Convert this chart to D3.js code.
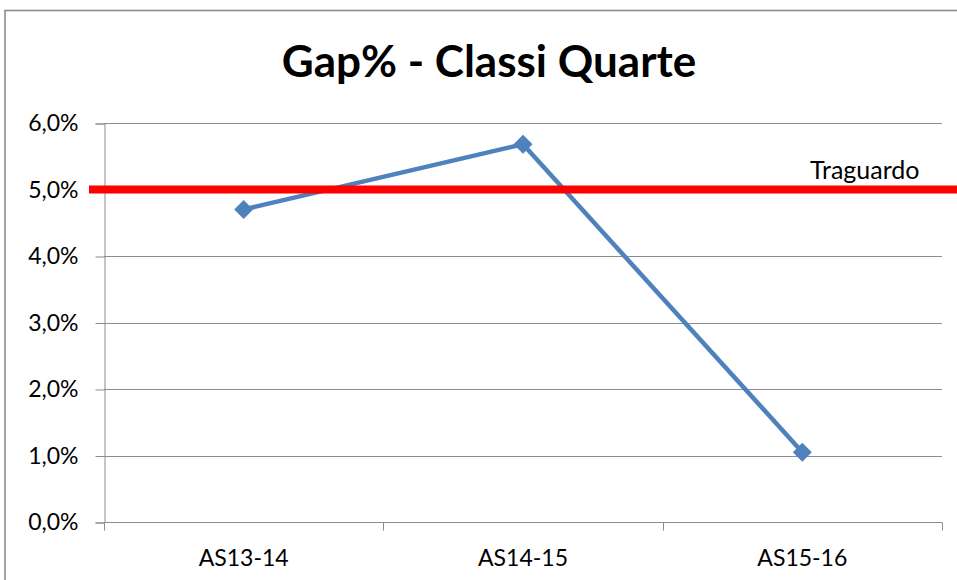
<!DOCTYPE html>
<html lang="it">
<head>
<meta charset="UTF-8">
<title>Gap% - Classi Quarte</title>
<script src="https://cdn.jsdelivr.net/npm/d3@7"></script>
<style>
    body { margin: 0; padding: 0; background: #fff; }
    svg { display: block; font-family: Lato, "Open Sans", sans-serif; }
</style>
</head>
<body>
<div id="chart"></div>
<script>
    // Data
    const categories = ["AS13-14", "AS14-15", "AS15-16"];
    const gapValues = [4.7, 5.68, 1.05];   // percent
    const targetValue = 5.0;                // "Traguardo"
    const targetLabel = "Traguardo";
    const yTicks = [0, 1, 2, 3, 4, 5, 6];
    const title = "Gap% - Classi Quarte";

    const width = 957;
    const height = 580;
    const margin = {top: 123, right: 15, bottom: 58, left: 104};

    const it = d3.formatLocale({decimal: ",", thousands: ".", grouping: [3], currency: ["€", ""]});
    const fmt = d => it.format(".1f")(d) + "%";

    const svg = d3.select("#chart").append("svg")
        .attr("width", width)
        .attr("height", height)
        .attr("viewBox", [0, 0, width, height]);

    // outer chart border (only top and left are visible in the frame)
    svg.append("rect")
        .attr("x", 5).attr("y", 10.5)
        .attr("width", width + 20).attr("height", height + 20)
        .attr("fill", "none")
        .attr("stroke", "#8c8c8c")
        .attr("stroke-width", 1.6);

    const x = d3.scaleBand()
        .domain(categories)
        .range([margin.left, width - margin.right]);

    const y = d3.scaleLinear()
        .domain([0, 6])
        .range([height - margin.bottom, margin.top]);

    // title
    svg.append("text")
        .attr("x", 489)
        .attr("y", 77)
        .attr("text-anchor", "middle")
        .attr("font-size", 44)
        .attr("font-weight", "bold")
        .attr("fill", "#000")
        .text(title);

    // horizontal gridlines
    svg.append("g")
        .attr("stroke", "#8c8c8c")
        .attr("stroke-width", 1)
        .selectAll("line")
        .data(yTicks.filter(d => d > 0))
        .join("line")
        .attr("x1", x.range()[0])
        .attr("x2", x.range()[1])
        .attr("y1", d => Math.round(y(d)) + 0.5)
        .attr("y2", d => Math.round(y(d)) + 0.5);

    // y axis
    const yAxis = svg.append("g")
        .attr("transform", `translate(${x.range()[0] + 0.5},0.5)`)
        .call(d3.axisLeft(y).tickValues(yTicks).tickFormat(fmt).tickSize(9).tickPadding(17));
    yAxis.select(".domain").attr("stroke", "#8c8c8c");
    yAxis.selectAll(".tick line").attr("stroke", "#8c8c8c");
    yAxis.selectAll(".tick text")
        .attr("font-size", 23)
        .attr("font-family", "Lato, sans-serif")
        .attr("fill", "#000");

    // x axis: ticks at category boundaries, labels in band centres
    const xAxis = svg.append("g")
        .attr("transform", `translate(0,${Math.round(y(0)) + 0.5})`);
    xAxis.append("line")
        .attr("x1", x.range()[0]).attr("x2", x.range()[1])
        .attr("stroke", "#8c8c8c");
    const bounds = categories.map(c => x(c)).concat([x.range()[1]]);
    xAxis.selectAll(".bt")
        .data(bounds)
        .join("line")
        .attr("class", "bt")
        .attr("x1", d => Math.round(d) + 0.5).attr("x2", d => Math.round(d) + 0.5)
        .attr("y1", 0).attr("y2", 8)
        .attr("stroke", "#8c8c8c");
    xAxis.selectAll(".lbl")
        .data(categories)
        .join("text")
        .attr("class", "lbl")
        .attr("x", d => x(d) + x.bandwidth() / 2)
        .attr("y", 43)
        .attr("text-anchor", "middle")
        .attr("font-size", 23)
        .attr("fill", "#000")
        .text(d => d);

    // series line
    const pts = categories.map((c, i) => [x(c) + x.bandwidth() / 2, y(gapValues[i])]);
    svg.append("path")
        .datum(pts)
        .attr("fill", "none")
        .attr("stroke", "#4f81bd")
        .attr("stroke-width", 4.5)
        .attr("stroke-linejoin", "round")
        .attr("d", d3.line());

    // diamond markers
    svg.append("g")
        .selectAll("path")
        .data(pts)
        .join("path")
        .attr("transform", d => `translate(${d[0]},${d[1]}) rotate(45)`)
        .attr("d", d3.symbol(d3.symbolSquare, 180))
        .attr("fill", "#4f81bd");

    // target line
    svg.append("line")
        .attr("x1", x.range()[0] - 15)
        .attr("x2", width)
        .attr("y1", y(targetValue))
        .attr("y2", y(targetValue))
        .attr("stroke", "#ff0000")
        .attr("stroke-width", 8);

    svg.append("text")
        .attr("x", 810)
        .attr("y", y(targetValue) - 11)
        .attr("font-size", 25)
        .attr("fill", "#000")
        .text(targetLabel);
</script>
</body>
</html>
